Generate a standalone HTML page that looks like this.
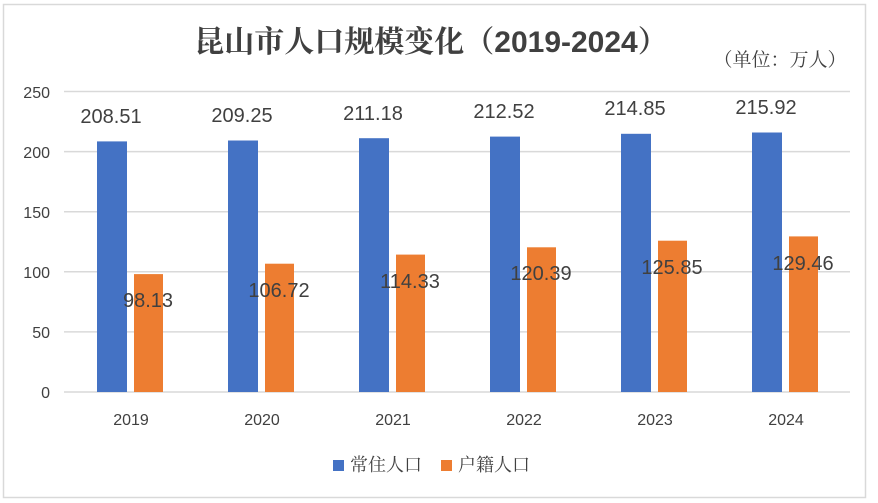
<!DOCTYPE html>
<html><head><meta charset="utf-8"><style>
html,body{margin:0;padding:0;background:#fff;}
svg{display:block;}
text{font-family:"Liberation Sans","Noto Sans CJK SC",sans-serif;fill:#404040;}
</style></head><body>
<svg width="878" height="503" viewBox="0 0 878 503" xmlns="http://www.w3.org/2000/svg">
<rect x="0" y="0" width="878" height="503" fill="#fff"/>
<rect x="3.5" y="4.5" width="862" height="493" fill="#fff" stroke="#d9d9d9" stroke-width="1.5"/>
<text x="431" y="52" text-anchor="middle" font-size="30" style="font-family:'Noto Serif CJK SC','Liberation Sans',serif;font-weight:bold;fill:#404040">昆山市人口规模变化（<tspan style="font-family:'Liberation Sans',sans-serif">2019-2024</tspan>）</text>
<text x="780" y="66" text-anchor="middle" font-size="19" style="font-family:'Noto Serif CJK SC',serif">（单位：万人）</text>
<g stroke="#d9d9d9" stroke-width="1.5">
<line x1="64" x2="850" y1="91.5" y2="91.5"/>
<line x1="64" x2="850" y1="151.6" y2="151.6"/>
<line x1="64" x2="850" y1="211.7" y2="211.7"/>
<line x1="64" x2="850" y1="271.8" y2="271.8"/>
<line x1="64" x2="850" y1="331.9" y2="331.9"/>
<line x1="64" x2="850" y1="392" y2="392"/>
</g>
<g font-size="16" text-anchor="end">
<text x="50" y="98">250</text><text x="50" y="158">200</text><text x="50" y="218">150</text>
<text x="50" y="278">100</text><text x="50" y="338">50</text><text x="50" y="398">0</text>
</g>
<g font-size="16" text-anchor="middle">
<text x="131" y="425">2019</text><text x="262" y="425">2020</text><text x="393" y="425">2021</text>
<text x="524" y="425">2022</text><text x="655" y="425">2023</text><text x="786" y="425">2024</text>
</g>
<g fill="#4472c4">
<rect x="97" y="141.4" width="30" height="250.6"/>
<rect x="228" y="140.5" width="30" height="251.5"/>
<rect x="359" y="138.2" width="30" height="253.8"/>
<rect x="490" y="136.6" width="30" height="255.4"/>
<rect x="621" y="133.8" width="30" height="258.2"/>
<rect x="752" y="132.5" width="30" height="259.5"/>
</g>
<g fill="#ed7d31">
<rect x="134" y="274.1" width="29" height="117.9"/>
<rect x="265" y="263.7" width="29" height="128.3"/>
<rect x="396" y="254.6" width="29" height="137.4"/>
<rect x="527" y="247.3" width="29" height="144.7"/>
<rect x="658" y="240.7" width="29" height="151.3"/>
<rect x="789" y="236.4" width="29" height="155.6"/>
</g>
<g font-size="20" text-anchor="middle">
<text x="111" y="123">208.51</text><text x="242" y="122">209.25</text><text x="373" y="120">211.18</text>
<text x="504" y="118">212.52</text><text x="635" y="115">214.85</text><text x="766" y="114">215.92</text>
<text x="148" y="307">98.13</text><text x="279" y="297">106.72</text><text x="410" y="288">114.33</text>
<text x="541" y="280">120.39</text><text x="672" y="274">125.85</text><text x="803" y="270">129.46</text>
</g>
<rect x="333" y="460" width="11" height="11" fill="#4472c4"/>
<text x="350" y="471" font-size="18" style="font-family:'Noto Serif CJK SC',serif">常住人口</text>
<rect x="441" y="460" width="11" height="11" fill="#ed7d31"/>
<text x="458" y="471" font-size="18" style="font-family:'Noto Serif CJK SC',serif">户籍人口</text>
</svg>
</body></html>
